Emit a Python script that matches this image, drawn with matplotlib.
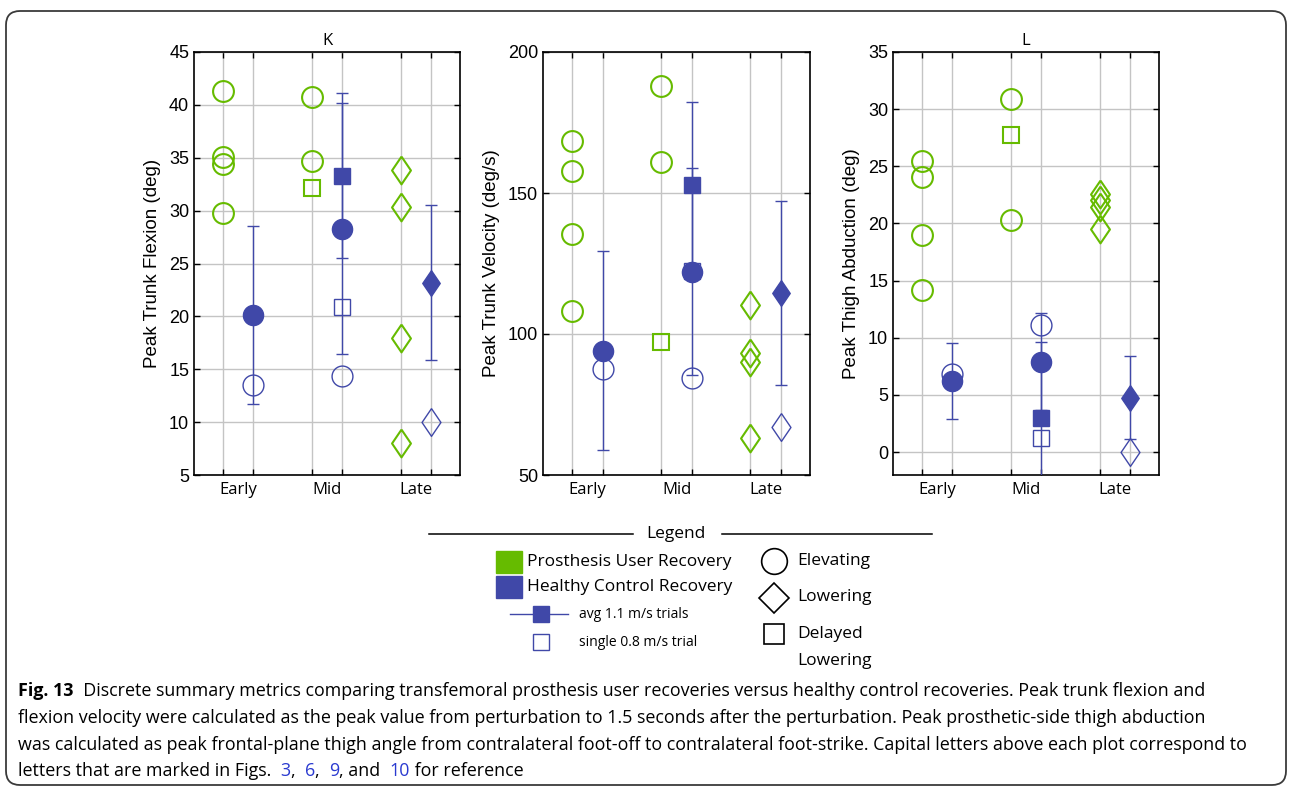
import numpy as np
import matplotlib.pyplot as plt
from matplotlib.patches import FancyBboxPatch, Rectangle

GREEN = '#66bb00'
BLUE = '#4048a8'
NUM_FONT = 'Liberation Sans'
TXT_FONT = 'Open Sans'

groups = ['Early', 'Mid', 'Late']
group_x = np.array([1.0, 2.0, 3.0])
# MATLAB-style diamond, a bit narrower than tall
DIAMOND = [(0, 1), (0.68, 0), (0, -1), (-0.68, 0), (0, 1)]
shapes = ['o', 'o', DIAMOND]

# K: peak trunk flexion (deg)
flex_pu_early = [41.3, 35.1, 34.4, 29.8]
flex_pu_mid = [40.7, 34.7]
flex_pu_mid_delay = [32.15]
flex_pu_late = [33.8, 30.3, 18.0, 8.05]
flex_hc_avg = [20.15, 28.3, 23.2]
flex_hc_sd = [8.4, 11.9, 7.35]
flex_hc_delay_avg = [33.3]
flex_hc_delay_sd = [7.8]
flex_hc_single = [13.5, 14.4, 10.0]
flex_hc_delay_single = [20.85]

# peak trunk velocity (deg/s)
vel_pu_early = [168.35, 157.95, 135.4, 108.0]
vel_pu_mid = [187.8, 160.9]
vel_pu_mid_delay = [97.1]
vel_pu_late = [110.2, 93.1, 90.2, 63.0]
vel_hc_avg = [94.1, 122.05, 114.5]
vel_hc_sd = [35.2, 36.7, 32.5]
vel_hc_delay_avg = [152.9]
vel_hc_delay_sd = [29.4]
vel_hc_single = [87.7, 84.5, 66.9]
vel_hc_delay_single = [122.5]

# L: peak thigh abduction (deg)
abd_pu_early = [25.45, 24.08, 19.0, 14.2]
abd_pu_mid = [30.87, 20.3]
abd_pu_mid_delay = [27.75]
abd_pu_late = [22.57, 22.04, 21.46, 19.48]
abd_hc_avg = [6.23, 7.92, 4.77]
abd_hc_sd = [3.35, 4.25, 3.64]
abd_hc_delay_avg = [2.97]
abd_hc_delay_sd = [6.67]
abd_hc_single = [6.84, 11.12, 0.03]
abd_hc_delay_single = [1.22]


def panel(ax, pu_early, pu_mid, pu_mid_delay, pu_late, hc_avg, hc_sd,
          hc_d_avg, hc_d_sd, hc_single, hc_d_single, ylim, yticks, ylabel, title):
    off = 0.17
    xg = group_x - off
    xb = group_x + off
    gkw = dict(linestyle='none', mfc='none', mec=GREEN, mew=1.5, zorder=3)
    ax.plot([xg[0]] * len(pu_early), pu_early, marker='o', ms=15, **gkw)
    ax.plot([xg[1]] * len(pu_mid), pu_mid, marker='o', ms=15, **gkw)
    ax.plot([xg[1]] * len(pu_mid_delay), pu_mid_delay, marker='s', ms=12, **gkw)
    ax.plot([xg[2]] * len(pu_late), pu_late, marker=DIAMOND, ms=20, **gkw)

    ekw = dict(fmt='none', ecolor=BLUE, elinewidth=1.0, capsize=4, capthick=1.0, zorder=3)
    ax.errorbar([xb[1]], hc_d_avg, yerr=hc_d_sd, **ekw)
    ax.errorbar(xb, hc_avg, yerr=hc_sd, **ekw)
    for i in range(3):
        round_mark = i < 2
        ax.plot(xb[i], hc_avg[i], marker=shapes[i], ms=14.5 if round_mark else 18.5,
                color=BLUE, mec=BLUE, zorder=4)
        ax.plot(xb[i], hc_single[i], marker=shapes[i], ms=15 if round_mark else 20,
                mfc='none', mec=BLUE, mew=1.0, zorder=4)
    ax.plot(xb[1], hc_d_avg[0], marker='s', ms=11.5, color=BLUE, zorder=4)
    ax.plot(xb[1], hc_d_single[0], marker='s', ms=12, mfc='none', mec=BLUE, mew=1.0, zorder=4)

    ax.set_xlim(0.5, 3.5)
    ax.set_ylim(*ylim)
    ax.set_xticks(np.sort(np.concatenate([xg, xb])))
    ax.set_xticklabels([])
    ax.set_xticks(group_x, groups, minor=True)
    ax.set_yticks(yticks)
    ax.set_axisbelow(True)
    ax.grid(True, which='major', color='#c4c4c4', lw=1.0)
    ax.tick_params(axis='both', which='major', direction='in', top=True, right=True,
                   length=4, width=1.0, labelsize=13)
    ax.tick_params(axis='x', which='minor', length=0, pad=5)
    for lab in ax.get_yticklabels():
        lab.set_fontfamily(NUM_FONT)
    for lab in ax.get_xticklabels(minor=True):
        lab.set_fontfamily(TXT_FONT)
        lab.set_fontsize(12)
    for s in ax.spines.values():
        s.set_linewidth(1.2)
    ax.set_ylabel(ylabel, fontfamily=NUM_FONT, fontsize=13.5, labelpad=6)
    if title:
        ax.set_title(title, fontfamily=TXT_FONT, fontsize=12, pad=5)


fig = plt.figure(figsize=(12.9, 7.9), dpi=100)

ax1 = fig.add_axes([194 / 1290, 315 / 790, 266 / 1290, 423 / 790])
panel(ax1, flex_pu_early, flex_pu_mid, flex_pu_mid_delay, flex_pu_late,
      flex_hc_avg, flex_hc_sd, flex_hc_delay_avg, flex_hc_delay_sd,
      flex_hc_single, flex_hc_delay_single,
      (5, 45), np.arange(5, 46, 5), 'Peak Trunk Flexion (deg)', 'K')

ax2 = fig.add_axes([543 / 1290, 315 / 790, 267 / 1290, 423 / 790])
panel(ax2, vel_pu_early, vel_pu_mid, vel_pu_mid_delay, vel_pu_late,
      vel_hc_avg, vel_hc_sd, vel_hc_delay_avg, vel_hc_delay_sd,
      vel_hc_single, vel_hc_delay_single,
      (50, 200), [50, 100, 150, 200], 'Peak Trunk Velocity (deg/s)', None)

ax3 = fig.add_axes([893 / 1290, 315 / 790, 266 / 1290, 423 / 790])
panel(ax3, abd_pu_early, abd_pu_mid, abd_pu_mid_delay, abd_pu_late,
      abd_hc_avg, abd_hc_sd, abd_hc_delay_avg, abd_hc_delay_sd,
      abd_hc_single, abd_hc_delay_single,
      (-2, 35), np.arange(0, 36, 5), 'Peak Thigh Abduction (deg)', 'L')

# overlay in pixel units for the legend, caption and frame
ov = fig.add_axes([0, 0, 1, 1], zorder=-1)
ov.set_xlim(0, 1290)
ov.set_ylim(790, 0)
ov.axis('off')

ov.add_patch(FancyBboxPatch((6, 11), 1280, 774, boxstyle='round,pad=0,rounding_size=14',
                            fc='none', ec='#3a3a3a', lw=1.3))

# legend
lkw = dict(fontfamily=TXT_FONT, va='center')
ov.plot([429, 633], [534, 534], color='black', lw=1.1)
ov.plot([722, 932], [534, 534], color='black', lw=1.1)
ov.text(676, 534, 'Legend', ha='center', fontsize=12.5, **lkw)
ov.add_patch(Rectangle((496, 551), 26, 22, color=GREEN))
ov.add_patch(Rectangle((496, 576), 26, 22, color=BLUE))
ov.text(527, 562, 'Prosthesis User Recovery', fontsize=12.5, **lkw)
ov.text(527, 587, 'Healthy Control Recovery', fontsize=12.5, **lkw)
ov.plot([510, 568], [614, 614], color=BLUE, lw=1.0)
ov.plot([541], [614], 's', ms=11.5, color=BLUE)
ov.text(579, 614, 'avg 1.1 m/s trials', fontsize=10, **lkw)
ov.plot([541], [642], 's', ms=11.5, mfc='none', mec=BLUE, mew=1.0)
ov.text(579, 642, 'single 0.8 m/s trial', fontsize=10, **lkw)
ov.plot([774], [561], 'o', ms=18.5, mfc='none', mec='black', mew=1.2)
ov.plot([774], [598], 'D', ms=15, mfc='none', mec='black', mew=1.2)
ov.plot([774], [634], 's', ms=15, mfc='none', mec='black', mew=1.2)
ov.text(797, 561, 'Elevating', fontsize=12.5, **lkw)
ov.text(797, 597, 'Lowering', fontsize=12.5, **lkw)
ov.text(797, 634, 'Delayed', fontsize=12.5, **lkw)
ov.text(797, 661, 'Lowering', fontsize=12.5, **lkw)

# caption
renderer = fig.canvas.get_renderer()
ckw = dict(fontfamily=TXT_FONT, fontsize=12.9, va='center')
LINK = '#2a3ad0'


def chain(x, y, parts):
    for s, extra in parts:
        t = ov.text(x, y, s, **ckw, **extra)
        x += t.get_window_extent(renderer=renderer).width


cap1 = ('Discrete summary metrics comparing transfemoral prosthesis user recoveries versus '
        'healthy control recoveries. Peak trunk flexion and')
cap2 = ('flexion velocity were calculated as the peak value from perturbation to 1.5 seconds '
        'after the perturbation. Peak prosthetic-side thigh abduction')
cap3 = ('was calculated as peak frontal-plane thigh angle from contralateral foot-off to '
        'contralateral foot-strike. Capital letters above each plot correspond to')
chain(18, 691, [('Fig. 13', dict(fontweight='bold')), ('  ' + cap1, {})])
chain(18, 718, [(cap2, {})])
chain(18, 745, [(cap3, {})])
chain(18, 771, [('letters that are marked in Figs.  ', {}), ('3', dict(color=LINK)),
                (',  ', {}), ('6', dict(color=LINK)), (',  ', {}),
                ('9', dict(color=LINK)), (', and  ', {}), ('10', dict(color=LINK)),
                (' for reference', {})])

fig.savefig('out.png', dpi=100)
